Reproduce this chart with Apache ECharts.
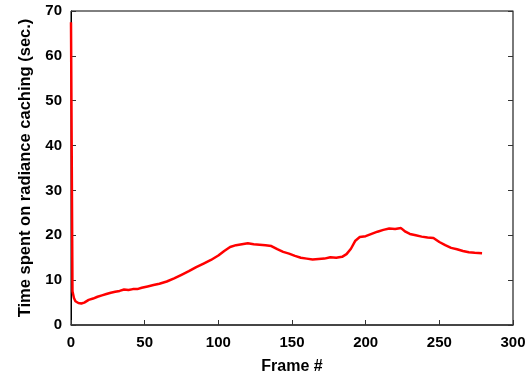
<!DOCTYPE html>
<html>
<head>
<meta charset="utf-8">
<script src="https://cdn.jsdelivr.net/npm/echarts@6/dist/echarts.min.js"></script>
<style>html,body{margin:0;padding:0;background:#fff}#c{width:531px;height:377px}</style>
</head>
<body>
<div id="c"></div>
<script>
const frames = [0,1,2,3,5,7,9,12,15,18,21,24,27,30,33,36,39,42,45,48,52,56,60,65,70,75,80,85,90,95,100,104,108,112,116,120,124,128,132,136,140,144,148,152,156,160,164,168,172,176,180,184,187,190,193,196,200,204,208,212,216,220,224,227,230,234,238,242,246,250,254,258,262,266,270,274,279];
const times = [67.5,7.5,6.0,5.3,4.9,4.8,5.0,5.6,5.9,6.3,6.6,6.9,7.2,7.4,7.6,7.9,7.8,8.0,8.0,8.3,8.6,8.9,9.2,9.7,10.4,11.2,12.0,12.9,13.7,14.5,15.5,16.5,17.4,17.8,18.0,18.2,18.0,17.9,17.8,17.6,16.9,16.3,15.9,15.4,15.0,14.8,14.6,14.7,14.8,15.1,15.0,15.2,15.8,17.0,18.8,19.6,19.8,20.3,20.8,21.2,21.5,21.4,21.6,20.8,20.3,20.0,19.7,19.5,19.4,18.5,17.8,17.2,16.9,16.5,16.2,16.1,16.0];
const xTicks = [0,50,100,150,200,250,300];
const yTicks = [0,10,20,30,40,50,60,70];
const xTitle = 'Frame #';
const yTitle = 'Time spent on radiance caching (sec.)';

const font = "'Liberation Sans', Arial, sans-serif";
const chart = echarts.init(document.getElementById('c'));
chart.setOption({
  animation: false,
  grid: {left: 71, right: 18, top: 11, bottom: 52, show: true, borderColor: '#000', borderWidth: 1, containLabel: false, outerBoundsMode: 'none'},
  xAxis: {
    type: 'value', min: xTicks[0], max: xTicks[xTicks.length-1], interval: 50,
    name: xTitle, nameLocation: 'middle', nameGap: 34,
    nameTextStyle: {fontFamily: font, fontWeight: 'bold', fontSize: 16, color: '#000'},
    axisLine: {lineStyle: {color: '#333', width: 1.5}},
    axisTick: {inside: true, length: 5, lineStyle: {color: '#333'}},
    axisLabel: {fontFamily: font, fontWeight: 'bold', fontSize: 15, color: '#000', margin: 10},
    splitLine: {show: false}
  },
  yAxis: [{
    type: 'value', min: yTicks[0], max: yTicks[yTicks.length-1], interval: 10,
    name: yTitle, nameLocation: 'middle', nameGap: 32,
    nameTextStyle: {fontFamily: font, fontWeight: 'bold', fontSize: 16.5, color: '#000'},
    axisLine: {lineStyle: {color: '#000', width: 1}},
    axisTick: {inside: true, length: 5, lineStyle: {color: '#333'}},
    axisLabel: {fontFamily: font, fontWeight: 'bold', fontSize: 15, color: '#000', margin: 9},
    splitLine: {show: false}
  }, {
    type: 'value', position: 'right', min: yTicks[0], max: yTicks[yTicks.length-1], interval: 10,
    axisLine: {show: true, lineStyle: {color: '#777', width: 1.5}},
    axisTick: {inside: true, length: 5, lineStyle: {color: '#333'}},
    axisLabel: {show: false},
    splitLine: {show: false}
  }],
  series: [{
    type: 'line',
    data: frames.map((f, i) => [f, times[i]]),
    showSymbol: false,
    lineStyle: {color: '#ff0000', width: 2.5},
    itemStyle: {color: '#ff0000'}
  }]
});
</script>
</body>
</html>
